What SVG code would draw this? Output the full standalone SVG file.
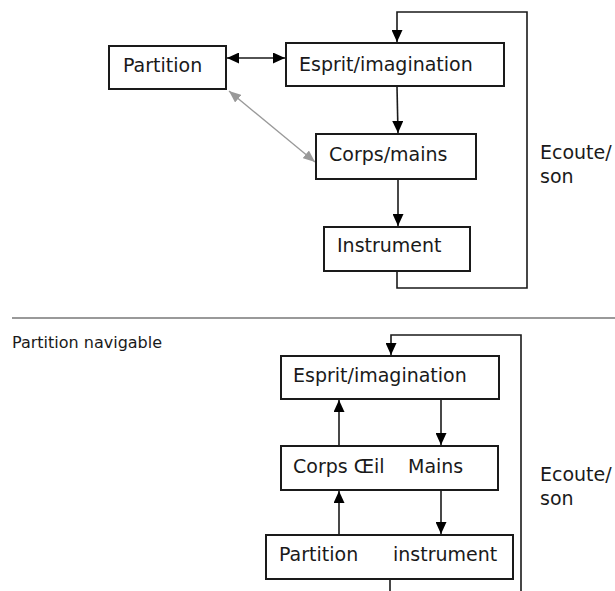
<svg xmlns="http://www.w3.org/2000/svg" width="615" height="591" viewBox="0 0 615 591">
<style>
  .box { fill: #ffffff; stroke: #1a1a1a; stroke-width: 2; }
  .lbl { font-family: "DejaVu Sans", Verdana, sans-serif; font-size: 19px; fill: #1a1a1a; }
  .cap { font-family: "DejaVu Sans", Verdana, sans-serif; font-size: 16px; fill: #1a1a1a; }
  .ln { fill: none; stroke: #1a1a1a; stroke-width: 1.6; }
  .gl { fill: none; stroke: #999999; stroke-width: 1.3; }
</style>
<defs>
  <marker id="ah" markerUnits="userSpaceOnUse" markerWidth="12" markerHeight="11" refX="12" refY="5.5" orient="auto-start-reverse">
    <path d="M0,0 L12,5.5 L0,11 z" fill="#000000"/>
  </marker>
  <marker id="ahg" markerUnits="userSpaceOnUse" markerWidth="12" markerHeight="10" refX="12" refY="5" orient="auto-start-reverse">
    <path d="M0,0 L12,5 L0,10 z" fill="#999999"/>
  </marker>
</defs>
<rect x="0" y="0" width="615" height="591" fill="#ffffff"/>

<g id="connectors">
  <line class="ln" x1="227" y1="58" x2="285" y2="58" marker-start="url(#ah)" marker-end="url(#ah)"/>
  <line class="gl" x1="229" y1="91" x2="315" y2="162" marker-start="url(#ahg)" marker-end="url(#ahg)"/>
  <line class="ln" x1="397" y1="87" x2="398" y2="133" marker-end="url(#ah)"/>
  <line class="ln" x1="398" y1="180" x2="398" y2="226" marker-end="url(#ah)"/>
  <polyline class="ln" points="397,272 397,288 527,288 527,12 397,12 397,42" marker-end="url(#ah)"/>
  <line x1="12" y1="318" x2="615" y2="318" stroke="#999999" stroke-width="2"/>
  <polyline class="ln" points="521,592 521,335 391,335 391,355" marker-end="url(#ah)"/>
  <line class="ln" x1="390" y1="580" x2="390" y2="592"/>
  <line class="ln" x1="339" y1="445" x2="339" y2="400" marker-end="url(#ah)"/>
  <line class="ln" x1="441" y1="400" x2="441" y2="445" marker-end="url(#ah)"/>
  <line class="ln" x1="339" y1="534" x2="339" y2="491" marker-end="url(#ah)"/>
  <line class="ln" x1="441" y1="491" x2="441" y2="534" marker-end="url(#ah)"/>
</g>

<g id="partition-top">
  <rect class="box" x="109" y="46" width="117" height="43"/>
  <text class="lbl" x="123" y="72">Partition</text>
</g>
<g id="esprit-top">
  <rect class="box" x="286" y="43" width="218" height="43"/>
  <text class="lbl" x="299" y="71">Esprit/imagination</text>
</g>
<g id="corps-top">
  <rect class="box" x="316" y="134" width="160" height="45"/>
  <text class="lbl" x="329" y="161">Corps/mains</text>
</g>
<g id="instrument-top">
  <rect class="box" x="324" y="227" width="146" height="44"/>
  <text class="lbl" x="337" y="252">Instrument</text>
</g>
<g id="ecoute-top">
  <text class="lbl" x="540" y="159">Ecoute/</text>
  <text class="lbl" x="540" y="183">son</text>
</g>

<g id="caption">
  <text class="cap" x="12" y="348">Partition navigable</text>
</g>
<g id="esprit-bottom">
  <rect class="box" x="281" y="356" width="218" height="43"/>
  <text class="lbl" x="293" y="382">Esprit/imagination</text>
</g>
<g id="corps-bottom">
  <rect class="box" x="281" y="446" width="217" height="44"/>
  <text class="lbl" x="293" y="473">Corps Œil<tspan x="408">Mains</tspan></text>
</g>
<g id="partition-instrument-bottom">
  <rect class="box" x="266" y="535" width="247" height="44"/>
  <text class="lbl" x="279" y="561">Partition<tspan x="393">instrument</tspan></text>
</g>
<g id="ecoute-bottom">
  <text class="lbl" x="540" y="481">Ecoute/</text>
  <text class="lbl" x="540" y="505">son</text>
</g>
</svg>
